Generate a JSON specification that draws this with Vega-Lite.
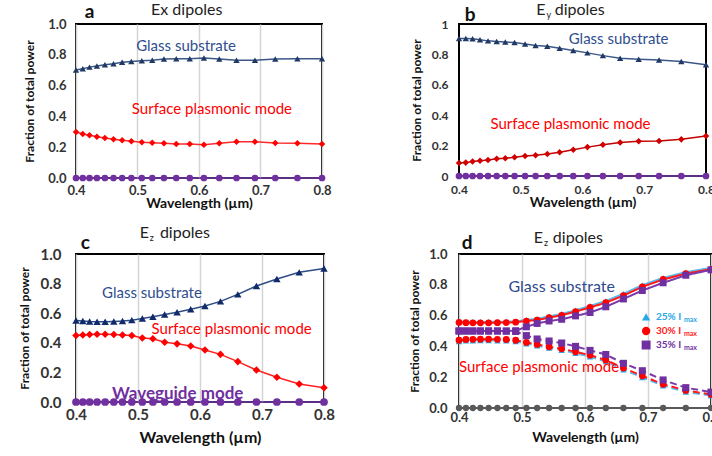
{
  "$schema": "https://vega.github.io/schema/vega-lite/v6.json",
  "padding": {"left": 17, "top": 0, "right": 0, "bottom": 0},
  "background": "white",
  "config": {
    "text": {"font": "Lato"},
    "view": {"stroke": "#000000", "strokeWidth": 2},
    "axis": {"labelFont": "Lato", "labelFontWeight": "bold", "labelFontSize": 12, "labelColor": "#333333", "titleFont": "Lato", "titleFontWeight": "bold", "titleColor": "#111111", "ticks": false, "domain": false, "gridColor": "#d4d4d4", "gridWidth": 1.5, "labelFlush": false, "labelOverlap": false},
    "axisX": {"titleFontSize": 14},
    "axisY": {"titleFontSize": 12, "tickCount": 6}
  },
  "columns": 2,
  "bounds": "flush",
  "spacing": {"row": 76, "column": 135},
  "resolve": {"scale": {"stroke": "independent", "fill": "independent", "shape": "independent", "size": "independent", "strokeDash": "independent"}},
  "concat": [
    {
      "width": 246, "height": 154,
      "data": {"values": [
        {"wl": 0.4, "Glass": 0.701, "SPM": 0.299, "WG": 0},
        {"wl": 0.411, "Glass": 0.71, "SPM": 0.286, "WG": 0},
        {"wl": 0.422, "Glass": 0.72, "SPM": 0.277, "WG": 0},
        {"wl": 0.434, "Glass": 0.728, "SPM": 0.268, "WG": 0},
        {"wl": 0.447, "Glass": 0.735, "SPM": 0.26, "WG": 0},
        {"wl": 0.461, "Glass": 0.742, "SPM": 0.251, "WG": 0},
        {"wl": 0.475, "Glass": 0.752, "SPM": 0.245, "WG": 0},
        {"wl": 0.49, "Glass": 0.757, "SPM": 0.238, "WG": 0},
        {"wl": 0.507, "Glass": 0.762, "SPM": 0.232, "WG": 0},
        {"wl": 0.524, "Glass": 0.765, "SPM": 0.229, "WG": 0},
        {"wl": 0.543, "Glass": 0.772, "SPM": 0.225, "WG": 0},
        {"wl": 0.563, "Glass": 0.775, "SPM": 0.221, "WG": 0},
        {"wl": 0.585, "Glass": 0.775, "SPM": 0.221, "WG": 0},
        {"wl": 0.608, "Glass": 0.779, "SPM": 0.216, "WG": 0},
        {"wl": 0.633, "Glass": 0.772, "SPM": 0.225, "WG": 0},
        {"wl": 0.661, "Glass": 0.765, "SPM": 0.236, "WG": 0},
        {"wl": 0.691, "Glass": 0.765, "SPM": 0.236, "WG": 0},
        {"wl": 0.724, "Glass": 0.772, "SPM": 0.227, "WG": 0},
        {"wl": 0.76, "Glass": 0.774, "SPM": 0.225, "WG": 0},
        {"wl": 0.8, "Glass": 0.774, "SPM": 0.221, "WG": 0}
      ]},
      "encoding": {
        "x": {"field": "wl", "type": "quantitative", "scale": {"domain": [0.4, 0.8], "nice": false, "zero": false},
          "axis": {"values": [0.4, 0.5, 0.6, 0.7, 0.8], "format": ".1f", "title": "Wavelength (µm)", "grid": true, "labelFontSize": 13, "labelPadding": 6, "titlePadding": -1}}
      },
      "layer": [
        {"transform": [{"fold": ["Glass", "SPM", "WG"], "as": ["key", "value"]}],
          "mark": {"type": "line", "strokeWidth": 1.5},
          "encoding": {
            "y": {"field": "value", "type": "quantitative", "scale": {"domain": [0, 1], "nice": false},
              "axis": {"values": [0, 0.2, 0.4, 0.6, 0.8, 1], "format": ".1f", "title": "Fraction of total power", "grid": false, "labelFontSize": 13, "labelPadding": 10, "titlePadding": 11}},
            "stroke": {"field": "key", "type": "nominal", "legend": null, "scale": {"domain": ["Glass", "SPM", "WG"], "range": ["#3b5888", "#ff2a2a", "#7b3fb0"]}}}},
        {"transform": [{"fold": ["Glass", "SPM", "WG"], "as": ["key", "value"]}],
          "mark": {"type": "point", "filled": true, "opacity": 1},
          "encoding": {
            "y": {"field": "value", "type": "quantitative", "scale": {"domain": [0, 1], "nice": false},
              "axis": {"values": [0, 0.2, 0.4, 0.6, 0.8, 1], "format": ".1f", "title": "Fraction of total power", "grid": false, "labelFontSize": 13, "labelPadding": 10, "titlePadding": 11}},
            "fill": {"field": "key", "type": "nominal", "legend": null, "scale": {"domain": ["Glass", "SPM", "WG"], "range": ["#1f3864", "#ff0000", "#7030a0"]}},
            "shape": {"field": "key", "type": "nominal", "legend": null, "scale": {"domain": ["Glass", "SPM", "WG"], "range": ["triangle-up", "diamond", "circle"]}},
            "size": {"field": "key", "type": "nominal", "legend": null, "scale": {"domain": ["Glass", "SPM", "WG"], "range": [40, 45, 30]}}}},
        {"transform": [{"filter": "datum.wl == 0.4"}], "mark": {"type": "text", "fontSize": 15, "color": "#2e4e8f"},
          "encoding": {"x": {"datum": 0.579, "type": "quantitative"}, "y": {"datum": 0.857, "type": "quantitative"}, "text": {"value": "Glass substrate"}}},
        {"transform": [{"filter": "datum.wl == 0.4"}], "mark": {"type": "text", "fontSize": 15, "color": "#ff0000"},
          "encoding": {"x": {"datum": 0.621, "type": "quantitative"}, "y": {"datum": 0.448, "type": "quantitative"}, "text": {"value": "Surface plasmonic mode"}}},
        {"transform": [{"filter": "datum.wl == 0.4"}], "mark": {"type": "text", "fontSize": 16, "color": "#222222"},
          "encoding": {"x": {"datum": 0.58, "type": "quantitative"}, "y": {"datum": 1.092, "type": "quantitative"}, "text": {"value": "Ex dipoles"}}},
        {"transform": [{"filter": "datum.wl == 0.4"}], "mark": {"type": "text", "fontSize": 19, "fontWeight": "bold", "color": "#111111"},
          "encoding": {"x": {"datum": 0.422, "type": "quantitative"}, "y": {"datum": 1.078, "type": "quantitative"}, "text": {"value": "a"}}}
      ]
    },
    {
      "width": 247, "height": 152,
      "data": {"values": [
        {"wl": 0.4, "Glass": 0.905, "SPM": 0.086, "WG": 0},
        {"wl": 0.411, "Glass": 0.905, "SPM": 0.088, "WG": 0},
        {"wl": 0.422, "Glass": 0.903, "SPM": 0.095, "WG": 0},
        {"wl": 0.434, "Glass": 0.896, "SPM": 0.1, "WG": 0},
        {"wl": 0.447, "Glass": 0.889, "SPM": 0.106, "WG": 0},
        {"wl": 0.461, "Glass": 0.885, "SPM": 0.113, "WG": 0},
        {"wl": 0.475, "Glass": 0.881, "SPM": 0.117, "WG": 0},
        {"wl": 0.49, "Glass": 0.878, "SPM": 0.124, "WG": 0},
        {"wl": 0.507, "Glass": 0.869, "SPM": 0.131, "WG": 0},
        {"wl": 0.524, "Glass": 0.858, "SPM": 0.137, "WG": 0},
        {"wl": 0.543, "Glass": 0.854, "SPM": 0.144, "WG": 0},
        {"wl": 0.563, "Glass": 0.841, "SPM": 0.157, "WG": 0},
        {"wl": 0.585, "Glass": 0.825, "SPM": 0.173, "WG": 0},
        {"wl": 0.608, "Glass": 0.81, "SPM": 0.19, "WG": 0},
        {"wl": 0.633, "Glass": 0.792, "SPM": 0.206, "WG": 0},
        {"wl": 0.661, "Glass": 0.774, "SPM": 0.221, "WG": 0},
        {"wl": 0.691, "Glass": 0.768, "SPM": 0.228, "WG": 0},
        {"wl": 0.724, "Glass": 0.763, "SPM": 0.23, "WG": 0},
        {"wl": 0.76, "Glass": 0.754, "SPM": 0.241, "WG": 0},
        {"wl": 0.8, "Glass": 0.732, "SPM": 0.263, "WG": 0}
      ]},
      "encoding": {
        "x": {"field": "wl", "type": "quantitative", "scale": {"domain": [0.4, 0.8], "nice": false, "zero": false},
          "axis": {"values": [0.4, 0.5, 0.6, 0.7, 0.8], "format": ".1f", "title": "Wavelength (µm)", "grid": false, "labelPadding": 8, "titlePadding": 0}}
      },
      "layer": [
        {"transform": [{"fold": ["Glass", "SPM", "WG"], "as": ["key", "value"]}],
          "mark": {"type": "line", "strokeWidth": 1.5},
          "encoding": {
            "y": {"field": "value", "type": "quantitative", "scale": {"domain": [0, 1], "nice": false},
              "axis": {"values": [0, 0.2, 0.4, 0.6, 0.8, 1], "format": ".1~f", "title": "Fraction of total power", "grid": false, "labelPadding": 11, "titlePadding": 8}},
            "stroke": {"field": "key", "type": "nominal", "legend": null, "scale": {"domain": ["Glass", "SPM", "WG"], "range": ["#3b5888", "#c00000", "#7b3fb0"]}}}},
        {"transform": [{"fold": ["Glass", "SPM", "WG"], "as": ["key", "value"]}],
          "mark": {"type": "point", "filled": true, "opacity": 1},
          "encoding": {
            "y": {"field": "value", "type": "quantitative", "scale": {"domain": [0, 1], "nice": false},
              "axis": {"values": [0, 0.2, 0.4, 0.6, 0.8, 1], "format": ".1~f", "title": "Fraction of total power", "grid": false, "labelPadding": 11, "titlePadding": 8}},
            "fill": {"field": "key", "type": "nominal", "legend": null, "scale": {"domain": ["Glass", "SPM", "WG"], "range": ["#1f3864", "#d00000", "#7030a0"]}},
            "shape": {"field": "key", "type": "nominal", "legend": null, "scale": {"domain": ["Glass", "SPM", "WG"], "range": ["triangle-up", "diamond", "circle"]}},
            "size": {"field": "key", "type": "nominal", "legend": null, "scale": {"domain": ["Glass", "SPM", "WG"], "range": [40, 45, 30]}}}},
        {"transform": [{"filter": "datum.wl == 0.4"}], "mark": {"type": "text", "fontSize": 15, "color": "#2e4e8f"},
          "encoding": {"x": {"datum": 0.6585, "type": "quantitative"}, "y": {"datum": 0.901, "type": "quantitative"}, "text": {"value": "Glass substrate"}}},
        {"transform": [{"filter": "datum.wl == 0.4"}], "mark": {"type": "text", "fontSize": 15, "color": "#ff0000"},
          "encoding": {"x": {"datum": 0.5805, "type": "quantitative"}, "y": {"datum": 0.342, "type": "quantitative"}, "text": {"value": "Surface plasmonic mode"}}},
        {"transform": [{"filter": "datum.wl == 0.4"}], "mark": {"type": "text", "fontSize": 16, "color": "#222222", "align": "right"},
          "encoding": {"x": {"datum": 0.54, "type": "quantitative"}, "y": {"datum": 1.095, "type": "quantitative"}, "text": {"value": "E"}}},
        {"transform": [{"filter": "datum.wl == 0.4"}], "mark": {"type": "text", "fontSize": 9, "color": "#222222", "align": "left", "dy": 5},
          "encoding": {"x": {"datum": 0.5415, "type": "quantitative"}, "y": {"datum": 1.095, "type": "quantitative"}, "text": {"value": "y"}}},
        {"transform": [{"filter": "datum.wl == 0.4"}], "mark": {"type": "text", "fontSize": 16, "color": "#222222", "align": "left"},
          "encoding": {"x": {"datum": 0.555, "type": "quantitative"}, "y": {"datum": 1.095, "type": "quantitative"}, "text": {"value": "dipoles"}}},
        {"transform": [{"filter": "datum.wl == 0.4"}], "mark": {"type": "text", "fontSize": 19, "fontWeight": "bold", "color": "#111111"},
          "encoding": {"x": {"datum": 0.418, "type": "quantitative"}, "y": {"datum": 1.062, "type": "quantitative"}, "text": {"value": "b"}}}
      ]
    },
    {
      "width": 248, "height": 148,
      "data": {"values": [
        {"wl": 0.4, "Glass": 0.551, "SPM": 0.449, "WG": 0},
        {"wl": 0.411, "Glass": 0.547, "SPM": 0.453, "WG": 0},
        {"wl": 0.422, "Glass": 0.544, "SPM": 0.456, "WG": 0},
        {"wl": 0.434, "Glass": 0.542, "SPM": 0.458, "WG": 0},
        {"wl": 0.447, "Glass": 0.542, "SPM": 0.458, "WG": 0},
        {"wl": 0.461, "Glass": 0.544, "SPM": 0.456, "WG": 0},
        {"wl": 0.475, "Glass": 0.547, "SPM": 0.453, "WG": 0},
        {"wl": 0.49, "Glass": 0.553, "SPM": 0.449, "WG": 0},
        {"wl": 0.507, "Glass": 0.564, "SPM": 0.433, "WG": 0},
        {"wl": 0.524, "Glass": 0.576, "SPM": 0.427, "WG": 0},
        {"wl": 0.543, "Glass": 0.591, "SPM": 0.404, "WG": 0},
        {"wl": 0.563, "Glass": 0.607, "SPM": 0.393, "WG": 0},
        {"wl": 0.585, "Glass": 0.627, "SPM": 0.378, "WG": 0},
        {"wl": 0.608, "Glass": 0.649, "SPM": 0.351, "WG": 0},
        {"wl": 0.633, "Glass": 0.68, "SPM": 0.322, "WG": 0},
        {"wl": 0.661, "Glass": 0.727, "SPM": 0.273, "WG": 0},
        {"wl": 0.691, "Glass": 0.784, "SPM": 0.216, "WG": 0},
        {"wl": 0.724, "Glass": 0.831, "SPM": 0.167, "WG": 0},
        {"wl": 0.76, "Glass": 0.876, "SPM": 0.122, "WG": 0},
        {"wl": 0.8, "Glass": 0.902, "SPM": 0.096, "WG": 0}
      ]},
      "encoding": {
        "x": {"field": "wl", "type": "quantitative", "scale": {"domain": [0.4, 0.8], "nice": false, "zero": false},
          "axis": {"values": [0.4, 0.5, 0.6, 0.7, 0.8], "format": ".1f", "title": "Wavelength (µm)", "grid": true, "labelFontSize": 15, "titleFontSize": 16, "labelPadding": 5, "titlePadding": 7}}
      },
      "layer": [
        {"transform": [{"fold": ["Glass", "SPM", "WG"], "as": ["key", "value"]}],
          "mark": {"type": "line", "strokeWidth": 1.5},
          "encoding": {
            "y": {"field": "value", "type": "quantitative", "scale": {"domain": [0, 1], "nice": false},
              "axis": {"values": [0, 0.2, 0.4, 0.6, 0.8, 1], "format": ".1f", "title": "Fraction of total power", "grid": false, "labelFontSize": 15, "labelPadding": 15, "titlePadding": 9}},
            "stroke": {"field": "key", "type": "nominal", "legend": null, "scale": {"domain": ["Glass", "SPM", "WG"], "range": ["#2f4d85", "#ff2020", "#7b3fb0"]}}}},
        {"transform": [{"fold": ["Glass", "SPM", "WG"], "as": ["key", "value"]}],
          "mark": {"type": "point", "filled": true, "opacity": 1},
          "encoding": {
            "y": {"field": "value", "type": "quantitative", "scale": {"domain": [0, 1], "nice": false},
              "axis": {"values": [0, 0.2, 0.4, 0.6, 0.8, 1], "format": ".1f", "title": "Fraction of total power", "grid": false, "labelFontSize": 15, "labelPadding": 15, "titlePadding": 9}},
            "fill": {"field": "key", "type": "nominal", "legend": null, "scale": {"domain": ["Glass", "SPM", "WG"], "range": ["#102a6a", "#ff0000", "#7030a0"]}},
            "shape": {"field": "key", "type": "nominal", "legend": null, "scale": {"domain": ["Glass", "SPM", "WG"], "range": ["triangle-up", "diamond", "circle"]}},
            "size": {"field": "key", "type": "nominal", "legend": null, "scale": {"domain": ["Glass", "SPM", "WG"], "range": [55, 60, 35]}}}},
        {"transform": [{"filter": "datum.wl == 0.4"}], "mark": {"type": "text", "fontSize": 15, "color": "#2e4e8f"},
          "encoding": {"x": {"datum": 0.5225, "type": "quantitative"}, "y": {"datum": 0.736, "type": "quantitative"}, "text": {"value": "Glass substrate"}}},
        {"transform": [{"filter": "datum.wl == 0.4"}], "mark": {"type": "text", "fontSize": 15, "color": "#ff0000"},
          "encoding": {"x": {"datum": 0.651, "type": "quantitative"}, "y": {"datum": 0.493, "type": "quantitative"}, "text": {"value": "Surface plasmonic mode"}}},
        {"transform": [{"filter": "datum.wl == 0.4"}], "mark": {"type": "text", "fontSize": 17, "fontWeight": "bold", "color": "#7030a0"},
          "encoding": {"x": {"datum": 0.564, "type": "quantitative"}, "y": {"datum": 0.054, "type": "quantitative"}, "text": {"value": "Waveguide mode"}}},
        {"transform": [{"filter": "datum.wl == 0.4"}], "mark": {"type": "text", "fontSize": 16, "color": "#222222", "align": "right"},
          "encoding": {"x": {"datum": 0.5177, "type": "quantitative"}, "y": {"datum": 1.142, "type": "quantitative"}, "text": {"value": "E"}}},
        {"transform": [{"filter": "datum.wl == 0.4"}], "mark": {"type": "text", "fontSize": 9, "color": "#222222", "align": "left", "dy": 5},
          "encoding": {"x": {"datum": 0.519, "type": "quantitative"}, "y": {"datum": 1.142, "type": "quantitative"}, "text": {"value": "z"}}},
        {"transform": [{"filter": "datum.wl == 0.4"}], "mark": {"type": "text", "fontSize": 16, "color": "#222222", "align": "left"},
          "encoding": {"x": {"datum": 0.5353, "type": "quantitative"}, "y": {"datum": 1.142, "type": "quantitative"}, "text": {"value": "dipoles"}}},
        {"transform": [{"filter": "datum.wl == 0.4"}], "mark": {"type": "text", "fontSize": 19, "fontWeight": "bold", "color": "#111111"},
          "encoding": {"x": {"datum": 0.415, "type": "quantitative"}, "y": {"datum": 1.074, "type": "quantitative"}, "text": {"value": "c"}}}
      ]
    },
    {
      "width": 252, "height": 154,
      "data": {"values": [
        {"wl": 0.4, "G25": 0.562, "G30": 0.556, "G35": 0.501, "S25": 0.433, "S30": 0.44, "S35": 0.499, "WG": 0},
        {"wl": 0.411, "G25": 0.56, "G30": 0.554, "G35": 0.5, "S25": 0.437, "S30": 0.445, "S35": 0.5, "WG": 0},
        {"wl": 0.422, "G25": 0.559, "G30": 0.553, "G35": 0.5, "S25": 0.438, "S30": 0.446, "S35": 0.5, "WG": 0},
        {"wl": 0.434, "G25": 0.559, "G30": 0.553, "G35": 0.5, "S25": 0.439, "S30": 0.447, "S35": 0.5, "WG": 0},
        {"wl": 0.447, "G25": 0.559, "G30": 0.553, "G35": 0.5, "S25": 0.439, "S30": 0.447, "S35": 0.5, "WG": 0},
        {"wl": 0.461, "G25": 0.56, "G30": 0.554, "G35": 0.5, "S25": 0.438, "S30": 0.446, "S35": 0.5, "WG": 0},
        {"wl": 0.475, "G25": 0.561, "G30": 0.555, "G35": 0.5, "S25": 0.437, "S30": 0.445, "S35": 0.499, "WG": 0},
        {"wl": 0.49, "G25": 0.563, "G30": 0.557, "G35": 0.502, "S25": 0.432, "S30": 0.44, "S35": 0.497, "WG": 0},
        {"wl": 0.507, "G25": 0.572, "G30": 0.565, "G35": 0.527, "S25": 0.418, "S30": 0.426, "S35": 0.47, "WG": 0},
        {"wl": 0.524, "G25": 0.579, "G30": 0.571, "G35": 0.549, "S25": 0.405, "S30": 0.413, "S35": 0.448, "WG": 0},
        {"wl": 0.543, "G25": 0.595, "G30": 0.587, "G35": 0.565, "S25": 0.39, "S30": 0.398, "S35": 0.435, "WG": 0},
        {"wl": 0.563, "G25": 0.611, "G30": 0.602, "G35": 0.576, "S25": 0.376, "S30": 0.385, "S35": 0.422, "WG": 0},
        {"wl": 0.585, "G25": 0.635, "G30": 0.626, "G35": 0.598, "S25": 0.356, "S30": 0.365, "S35": 0.4, "WG": 0},
        {"wl": 0.608, "G25": 0.663, "G30": 0.653, "G35": 0.62, "S25": 0.333, "S30": 0.343, "S35": 0.374, "WG": 0},
        {"wl": 0.633, "G25": 0.695, "G30": 0.684, "G35": 0.657, "S25": 0.302, "S30": 0.312, "S35": 0.347, "WG": 0},
        {"wl": 0.661, "G25": 0.742, "G30": 0.73, "G35": 0.708, "S25": 0.249, "S30": 0.259, "S35": 0.29, "WG": 0},
        {"wl": 0.691, "G25": 0.798, "G30": 0.787, "G35": 0.763, "S25": 0.199, "S30": 0.209, "S35": 0.242, "WG": 0},
        {"wl": 0.724, "G25": 0.845, "G30": 0.835, "G35": 0.813, "S25": 0.145, "S30": 0.154, "S35": 0.182, "WG": 0},
        {"wl": 0.76, "G25": 0.882, "G30": 0.873, "G35": 0.862, "S25": 0.105, "S30": 0.114, "S35": 0.132, "WG": 0},
        {"wl": 0.8, "G25": 0.91, "G30": 0.901, "G35": 0.897, "S25": 0.08, "S30": 0.088, "S35": 0.103, "WG": 0}
      ]},
      "encoding": {
        "x": {"field": "wl", "type": "quantitative", "scale": {"domain": [0.4, 0.8], "nice": false, "zero": false},
          "axis": {"values": [0.4, 0.5, 0.6, 0.7, 0.8], "format": ".1f", "title": "Wavelength (µm)", "grid": true, "labelFontSize": 13, "labelPadding": 3, "titlePadding": 6}}
      },
      "layer": [
        {"transform": [{"fold": ["WG", "G25", "S25", "G30", "S30", "G35", "S35"], "as": ["key", "value"]}],
          "mark": {"type": "line", "strokeWidth": 2},
          "encoding": {
            "y": {"field": "value", "type": "quantitative", "scale": {"domain": [0, 1], "nice": false},
              "axis": {"values": [0, 0.2, 0.4, 0.6, 0.8, 1], "format": ".1f", "title": "Fraction of total power", "grid": false, "labelFontSize": 13, "labelPadding": 12, "titlePadding": 7}},
            "stroke": {"field": "key", "type": "nominal", "legend": null, "scale": {"domain": ["WG", "G25", "S25", "G30", "S30", "G35", "S35"], "range": ["#595959", "#5bbcec", "#5bbcec", "#ff1a1a", "#ff1a1a", "#7a3aaa", "#7a3aaa"]}},
            "strokeDash": {"field": "key", "type": "nominal", "legend": null, "scale": {"domain": ["WG", "G25", "S25", "G30", "S30", "G35", "S35"], "range": [[1, 0], [1, 0], [7, 4], [1, 0], [7, 4], [1, 0], [7, 4]]}}}},
        {"transform": [{"fold": ["WG", "G25", "S25", "G30", "S30", "G35", "S35"], "as": ["key", "value"]}],
          "mark": {"type": "point", "filled": true, "opacity": 1},
          "encoding": {
            "y": {"field": "value", "type": "quantitative", "scale": {"domain": [0, 1], "nice": false},
              "axis": {"values": [0, 0.2, 0.4, 0.6, 0.8, 1], "format": ".1f", "title": "Fraction of total power", "grid": false, "labelFontSize": 13, "labelPadding": 12, "titlePadding": 7}},
            "order": {"field": "key", "type": "ordinal"},
            "fill": {"field": "key", "type": "nominal", "legend": null, "scale": {"domain": ["WG", "G25", "S25", "G30", "S30", "G35", "S35"], "range": ["#595959", "#2aa8e6", "#2aa8e6", "#ff0000", "#ff0000", "#7030a0", "#7030a0"]}},
            "shape": {"field": "key", "type": "nominal", "legend": null, "scale": {"domain": ["WG", "G25", "S25", "G30", "S30", "G35", "S35"], "range": ["circle", "triangle-up", "triangle-up", "circle", "circle", "square", "square"]}},
            "size": {"field": "key", "type": "nominal", "legend": null, "scale": {"domain": ["WG", "G25", "S25", "G30", "S30", "G35", "S35"], "range": [40, 50, 50, 55, 55, 60, 60]}}}},
        {"transform": [{"filter": "datum.wl == 0.4"}], "mark": {"type": "text", "fontSize": 16, "color": "#2e4a8f"},
          "encoding": {"x": {"datum": 0.563, "type": "quantitative"}, "y": {"datum": 0.786, "type": "quantitative"}, "text": {"value": "Glass substrate"}}},
        {"transform": [{"filter": "datum.wl == 0.4"}], "mark": {"type": "text", "fontSize": 15, "color": "#ff0000"},
          "encoding": {"x": {"datum": 0.527, "type": "quantitative"}, "y": {"datum": 0.266, "type": "quantitative"}, "text": {"value": "Surface plasmonic mode"}}},
        {"transform": [{"filter": "datum.wl == 0.4"}], "mark": {"type": "point", "shape": "triangle-up", "filled": true, "opacity": 1, "size": 70, "color": "#2aa8e6"},
          "encoding": {"x": {"datum": 0.697, "type": "quantitative"}, "y": {"datum": 0.591, "type": "quantitative"}}},
        {"transform": [{"filter": "datum.wl == 0.4"}], "mark": {"type": "point", "shape": "circle", "filled": true, "opacity": 1, "size": 70, "color": "#ff0000"},
          "encoding": {"x": {"datum": 0.697, "type": "quantitative"}, "y": {"datum": 0.5, "type": "quantitative"}}},
        {"transform": [{"filter": "datum.wl == 0.4"}], "mark": {"type": "point", "shape": "square", "filled": true, "opacity": 1, "size": 80, "color": "#7030a0"},
          "encoding": {"x": {"datum": 0.697, "type": "quantitative"}, "y": {"datum": 0.409, "type": "quantitative"}}},
        {"transform": [{"filter": "datum.wl == 0.4"}], "mark": {"type": "text", "fontSize": 10, "fontWeight": "bold", "color": "#2aa8e6", "align": "left"},
          "encoding": {"x": {"datum": 0.7127, "type": "quantitative"}, "y": {"datum": 0.591, "type": "quantitative"}, "text": {"value": "25% I"}}},
        {"transform": [{"filter": "datum.wl == 0.4"}], "mark": {"type": "text", "fontSize": 10, "fontWeight": "bold", "color": "#ff1a1a", "align": "left"},
          "encoding": {"x": {"datum": 0.7127, "type": "quantitative"}, "y": {"datum": 0.5, "type": "quantitative"}, "text": {"value": "30% I"}}},
        {"transform": [{"filter": "datum.wl == 0.4"}], "mark": {"type": "text", "fontSize": 10, "fontWeight": "bold", "color": "#7030a0", "align": "left"},
          "encoding": {"x": {"datum": 0.7127, "type": "quantitative"}, "y": {"datum": 0.409, "type": "quantitative"}, "text": {"value": "35% I"}}},
        {"transform": [{"filter": "datum.wl == 0.4"}], "mark": {"type": "text", "fontSize": 7, "fontWeight": "bold", "color": "#2aa8e6", "align": "left", "dy": 3},
          "encoding": {"x": {"datum": 0.757, "type": "quantitative"}, "y": {"datum": 0.591, "type": "quantitative"}, "text": {"value": "max"}}},
        {"transform": [{"filter": "datum.wl == 0.4"}], "mark": {"type": "text", "fontSize": 7, "fontWeight": "bold", "color": "#ff1a1a", "align": "left", "dy": 3},
          "encoding": {"x": {"datum": 0.757, "type": "quantitative"}, "y": {"datum": 0.5, "type": "quantitative"}, "text": {"value": "max"}}},
        {"transform": [{"filter": "datum.wl == 0.4"}], "mark": {"type": "text", "fontSize": 7, "fontWeight": "bold", "color": "#7030a0", "align": "left", "dy": 3},
          "encoding": {"x": {"datum": 0.757, "type": "quantitative"}, "y": {"datum": 0.409, "type": "quantitative"}, "text": {"value": "max"}}},
        {"transform": [{"filter": "datum.wl == 0.4"}], "mark": {"type": "text", "fontSize": 16, "color": "#222222", "align": "right"},
          "encoding": {"x": {"datum": 0.5333, "type": "quantitative"}, "y": {"datum": 1.104, "type": "quantitative"}, "text": {"value": "E"}}},
        {"transform": [{"filter": "datum.wl == 0.4"}], "mark": {"type": "text", "fontSize": 9, "color": "#222222", "align": "left", "dy": 5},
          "encoding": {"x": {"datum": 0.535, "type": "quantitative"}, "y": {"datum": 1.104, "type": "quantitative"}, "text": {"value": "z"}}},
        {"transform": [{"filter": "datum.wl == 0.4"}], "mark": {"type": "text", "fontSize": 16, "color": "#222222", "align": "left"},
          "encoding": {"x": {"datum": 0.549, "type": "quantitative"}, "y": {"datum": 1.104, "type": "quantitative"}, "text": {"value": "dipoles"}}},
        {"transform": [{"filter": "datum.wl == 0.4"}], "mark": {"type": "text", "fontSize": 19, "fontWeight": "bold", "color": "#111111"},
          "encoding": {"x": {"datum": 0.413, "type": "quantitative"}, "y": {"datum": 1.071, "type": "quantitative"}, "text": {"value": "d"}}}
      ]
    }
  ]
}
